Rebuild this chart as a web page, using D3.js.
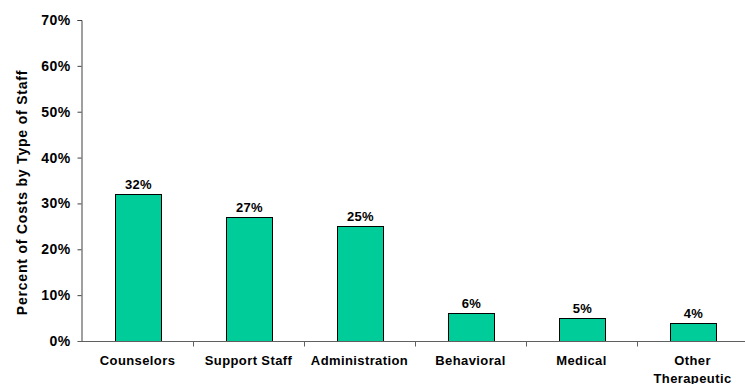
<!DOCTYPE html>
<html>
<head>
<meta charset="utf-8">
<script src="https://cdn.jsdelivr.net/npm/d3@7"></script>
<style>
  html, body { margin: 0; padding: 0; background: #fff; }
  svg { display: block; }
  text { font-family: Arial, "Liberation Sans", Helvetica, sans-serif; font-weight: bold; fill: #000; }
</style>
</head>
<body>
<svg id="chart" width="745" height="384"></svg>
<script>
const categories = ["Counselors", "Support Staff", "Administration", "Behavioral", "Medical", "Other Therapeutic"];
const values = [32, 27, 25, 6, 5, 4];
const yTicks = [0, 10, 20, 30, 40, 50, 60, 70];
const yTitle = "Percent of Costs by Type of Staff";

const svg = d3.select("#chart");
const x0 = 82, x1 = 748, yBottom = 341, yTop = 20;

const x = d3.scaleBand().domain(categories).range([x0, x1]).paddingInner(0.59).paddingOuter(0.295);
const y = d3.scaleLinear().domain([0, 70]).range([yBottom, yTop]);

// bars
svg.append("g").selectAll("rect").data(values).join("rect")
  .attr("x", (d, i) => Math.round(x(categories[i])) + 0.5)
  .attr("y", d => Math.round(y(d)) + 0.5)
  .attr("width", Math.round(x.bandwidth()))
  .attr("height", d => Math.round(y(0)) - Math.round(y(d)))
  .attr("fill", "#00CC99")
  .attr("stroke", "#000")
  .attr("stroke-width", 1);

// value labels
svg.append("g").selectAll("text").data(values).join("text")
  .attr("x", (d, i) => x(categories[i]) + x.bandwidth() / 2 + 1)
  .attr("y", d => y(d) - 5)
  .attr("text-anchor", "middle")
  .style("font-size", "13px")
  .style("letter-spacing", "0.3px")
  .text(d => d + "%");

// y axis
const yAxis = d3.axisLeft(y).tickValues(yTicks).tickSize(4).tickPadding(7).tickFormat(d => d + "%");
const gy = svg.append("g").attr("transform", `translate(${x0 - 0.5},0)`).call(yAxis);
gy.select(".domain").attr("stroke", "#404040").attr("d", `M-4,${yTop}.5H0.5V${yBottom}.5`);
gy.selectAll(".tick line").attr("stroke", "#404040");
gy.selectAll(".tick text").style("font-size", "14px").style("font-family", "Arial, 'Liberation Sans', sans-serif")
  .style("font-weight", "bold").style("letter-spacing", "0.4px").attr("fill", "#000");

// x axis
const gx = svg.append("g").attr("transform", `translate(0,${yBottom + 0.5})`);
gx.append("line").attr("x1", x0 - 4).attr("x2", 745).attr("y1", 0).attr("y2", 0).attr("stroke", "#606060");
const boundaries = categories.slice(1).map(c => x(c) - x.step() * x.paddingInner() / 2);
gx.selectAll("line.tk").data(boundaries).join("line").attr("class", "tk")
  .attr("x1", d => Math.round(d) + 0.5).attr("x2", d => Math.round(d) + 0.5)
  .attr("y1", 0).attr("y2", 5).attr("stroke", "#606060");

// category labels
const lab = svg.append("g").selectAll("text").data(categories).join("text")
  .attr("text-anchor", "middle")
  .style("font-size", "13px")
  .style("letter-spacing", "0.4px")
  .attr("transform", c => `translate(${x(c) + x.bandwidth() / 2},365)`);
lab.each(function (c) {
  const t = d3.select(this);
  const words = c === "Other Therapeutic" ? ["Other", "Therapeutic"] : [c];
  words.forEach((w, i) => t.append("tspan").attr("x", 0).attr("dy", i === 0 ? 0 : 17.5).text(w));
});

// y title
svg.append("text")
  .attr("transform", `translate(27,${(yTop + yBottom) / 2 + 12}) rotate(-90)`)
  .attr("text-anchor", "middle")
  .style("font-size", "14px")
  .style("letter-spacing", "0.8px")
  .text(yTitle);
</script>
</body>
</html>
